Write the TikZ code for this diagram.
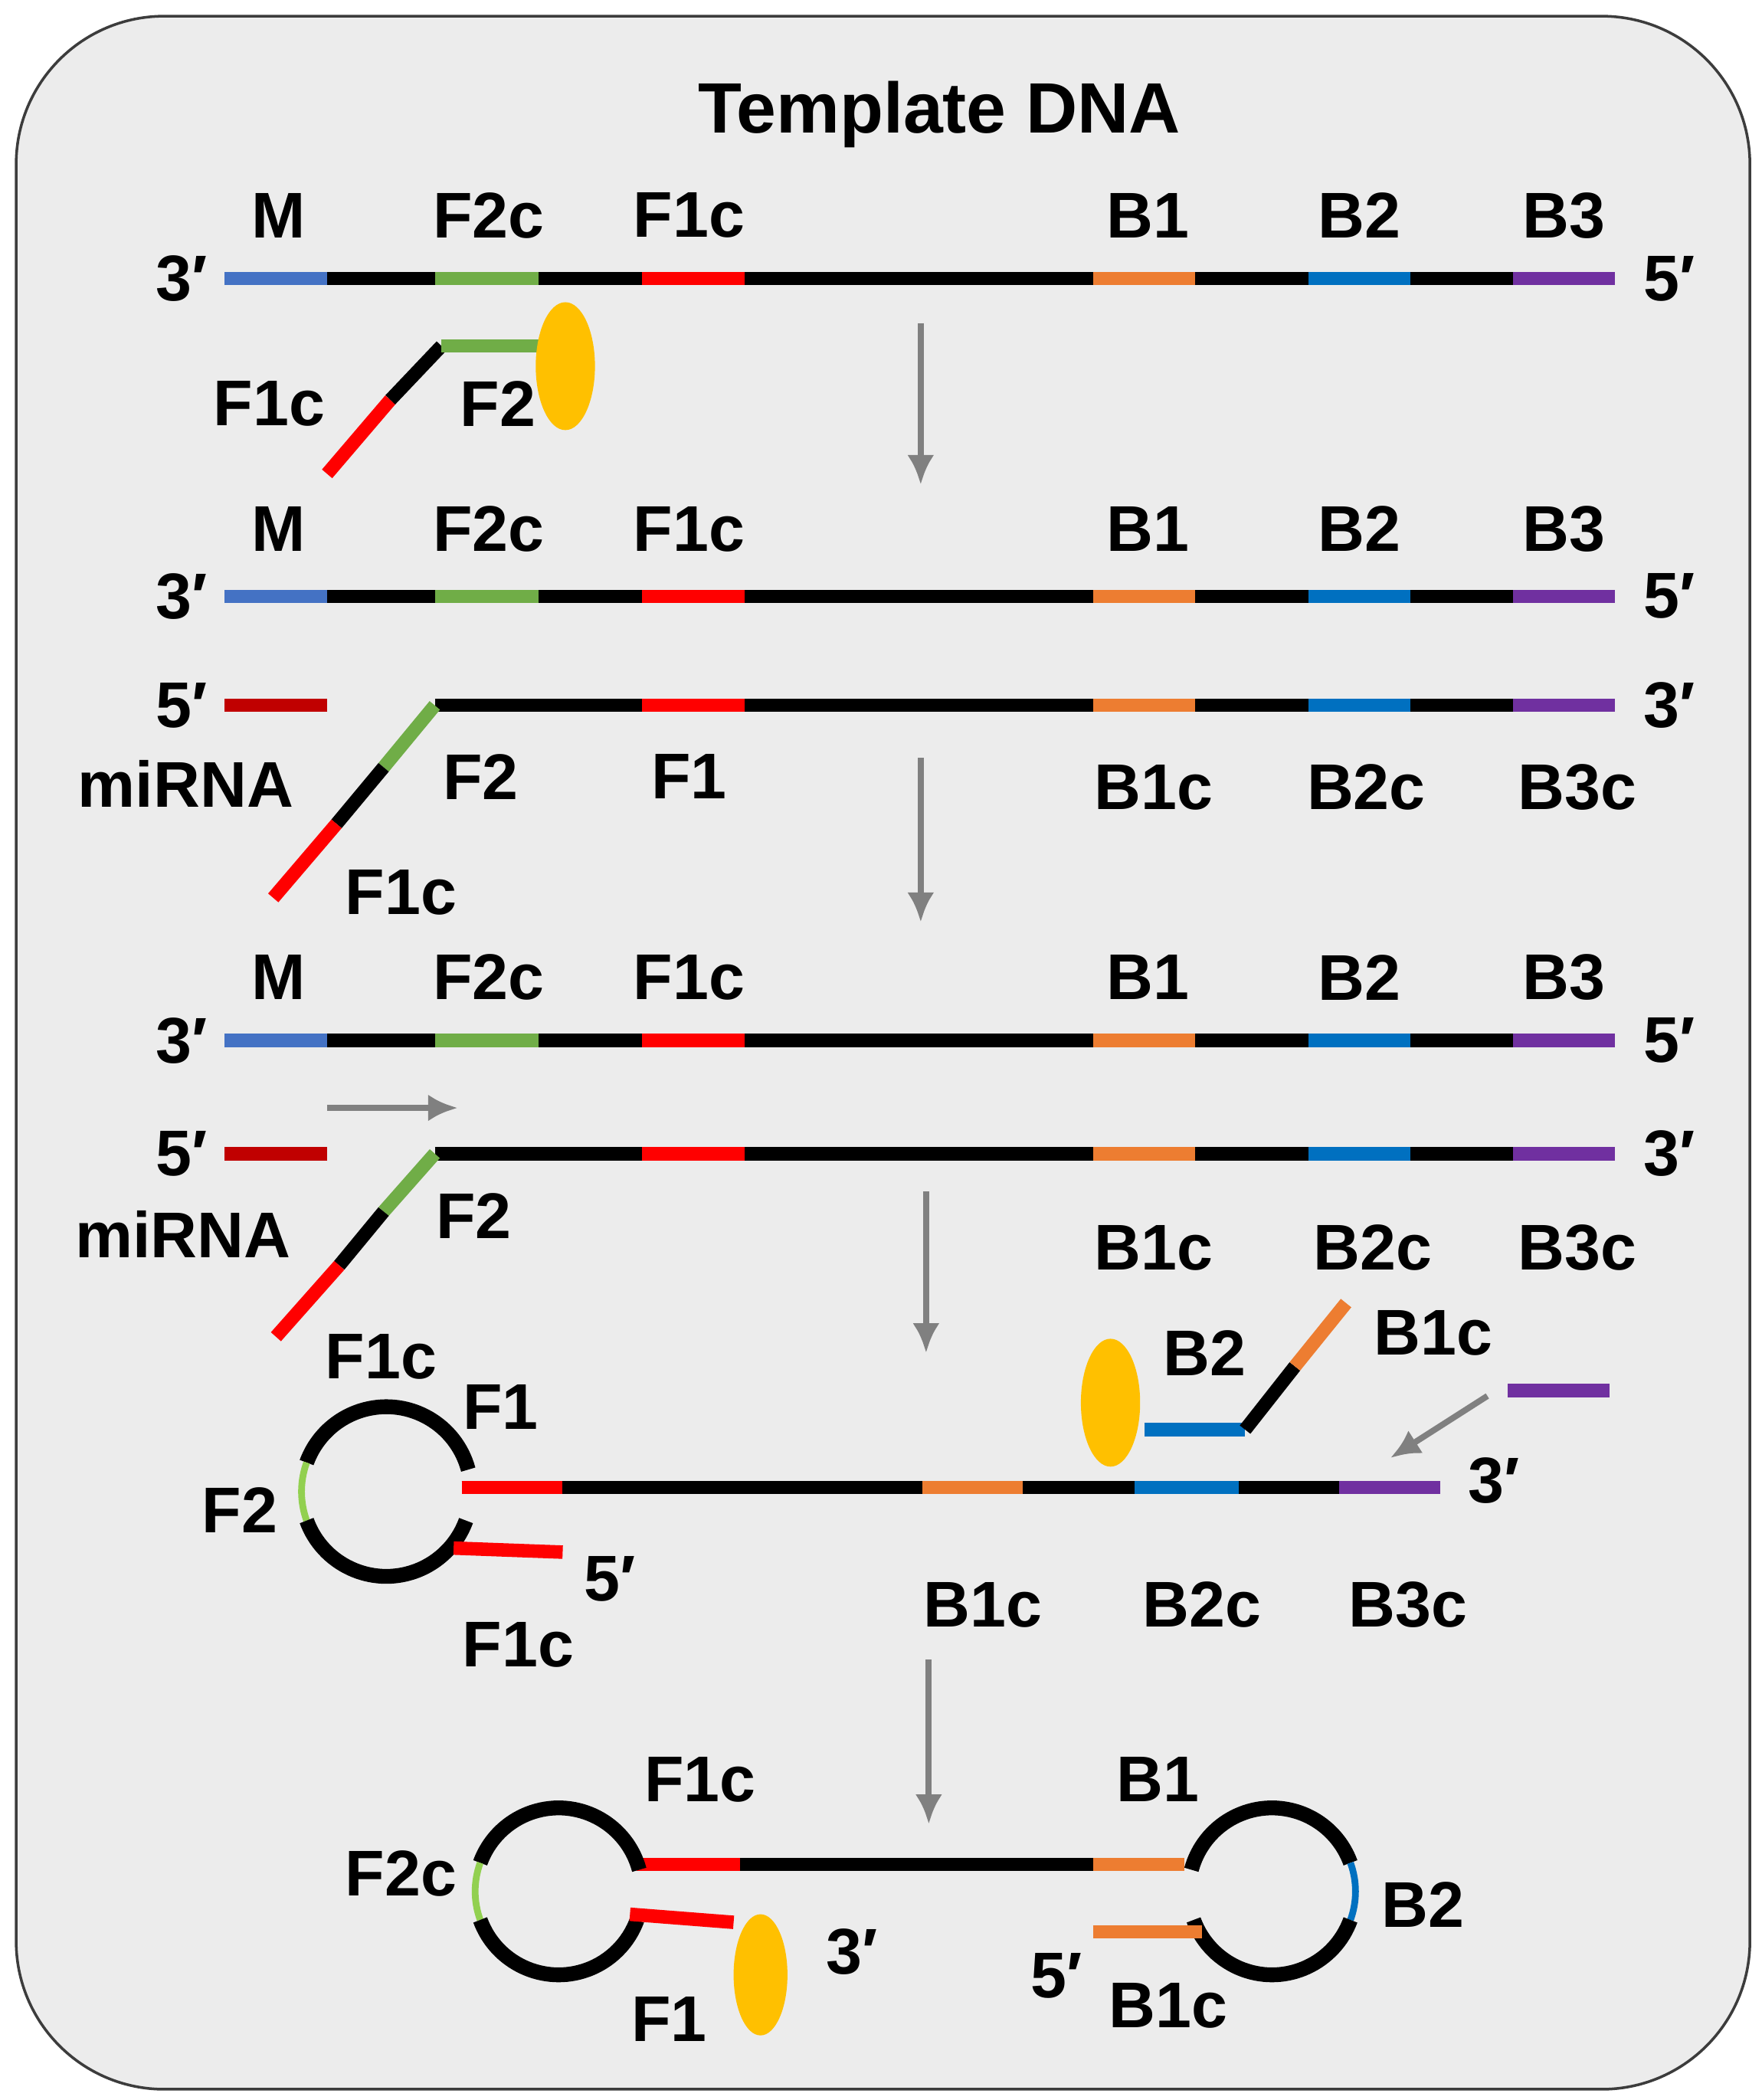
\documentclass[tikz,border=0pt]{standalone}
\usepackage{fontspec}
\setmainfont{Liberation Sans}
\definecolor{bgc}{RGB}{236,236,236}
\definecolor{frm}{RGB}{60,60,60}
\definecolor{cM}{RGB}{68,114,196}
\definecolor{cG}{RGB}{112,173,71}
\definecolor{cLG}{RGB}{146,208,80}
\definecolor{cR}{RGB}{255,0,0}
\definecolor{cDR}{RGB}{192,0,0}
\definecolor{cO}{RGB}{237,125,49}
\definecolor{cB}{RGB}{0,112,192}
\definecolor{cP}{RGB}{112,48,160}
\definecolor{cY}{RGB}{255,192,0}
\definecolor{cA}{RGB}{128,128,128}
\begin{document}
\begin{tikzpicture}[x=1pt,y=-1pt,
  lab/.style={font=\bfseries\fontsize{48}{54}\selectfont,inner sep=0pt},
  seg/.style={line width=10pt},
  arc/.style={line width=11pt},
  garr/.style={draw=cA,line width=4.5pt,-{Latex[length=22pt,width=20pt]}},
  yel/.style={ellipse,fill=cY,minimum width=44pt,minimum height=95pt,inner sep=0pt}]
\usetikzlibrary{arrows.meta,shapes.geometric}
\useasboundingbox (0,0) rectangle (1309,1560);
\draw[fill=bgc,draw=frm,line width=2pt,rounded corners=110pt] (12,12) rectangle (1300,1552);
\node[lab,font=\bfseries\fontsize{53}{60}\selectfont] (title) at (698,85) {Template DNA};
% template strands
\foreach \y/\ly [count=\i] in {207/160,443/393,773/726}{
  \draw[seg] (167,\y) -- (1200,\y);
  \draw[seg,cM] (167,\y) -- (243,\y);
  \draw[seg,cG] (323,\y) -- (400,\y);
  \draw[seg,cR] (477,\y) -- (553,\y);
  \draw[seg,cO] (812,\y) -- (888,\y);
  \draw[seg,cB] (972,\y) -- (1048,\y);
  \draw[seg,cP] (1124,\y) -- (1200,\y);
  \node[lab] (m\i) at (207,\ly) {M};
  \node[lab] (f2c\i) at (363,\ly) {F2c};
  \node[lab] (f1c\i) at (512,\ly) {F1c};
  \node[lab] (b1\i) at (853,\ly) {B1};
  \node[lab] (b2\i) at (1010,\ly) {B2};
  \node[lab] (b3\i) at (1162,\ly) {B3};
  \node[lab] (t3\i) at (135,\y) {3\char"2032};
  \node[lab] (t5\i) at (1240,\y) {5\char"2032};
}
% primer 1
\draw[seg,cR] (243,352) -- (290,297);
\draw[seg] (290,297) -- (328,257);
\draw[seg,cG] (328,257) -- (405,257);
\node[yel] (y1) at (420,272) {};
\node[lab] (p1a) at (200,300) {F1c};
\node[lab] (p1b) at (370,300) {F2};
\draw[garr] (684,240) -- (684,360);
% bottom strands
\foreach \y/\t in {524/2,857/3}{
  \draw[seg] (323,\y) -- (1200,\y);
  \draw[seg,cDR] (167,\y) -- (243,\y);
  \draw[seg,cR] (477,\y) -- (553,\y);
  \draw[seg,cO] (812,\y) -- (888,\y);
  \draw[seg,cB] (972,\y) -- (1048,\y);
  \draw[seg,cP] (1124,\y) -- (1200,\y);
  \node[lab] (s5\t) at (135,\y) {5\char"2032};
  \node[lab] (s3\t) at (1240,\y) {3\char"2032};
}
\draw[seg,cG] (323,524) -- (285,570);
\draw[seg] (285,570) -- (250,612);
\draw[seg,cR] (250,612) -- (203,667);
\node[lab] (mi2) at (138,582) {miRNA};
\node[lab] (f22) at (357,577) {F2};
\node[lab] (f12) at (512,577) {F1};
\node[lab] (b1c2) at (857,585) {B1c};
\node[lab] (b2c2) at (1015,585) {B2c};
\node[lab] (b3c2) at (1172,585) {B3c};
\node[lab] (f1cb2) at (298,663) {F1c};
\draw[garr] (684,563) -- (684,685);
% row 3
\draw[garr] (243,823) -- (340,823);
\draw[seg,cG] (323,857) -- (285,900);
\draw[seg] (285,900) -- (252,940);
\draw[seg,cR] (252,940) -- (205,993);
\node[lab] (mi3) at (136,917) {miRNA};
\node[lab] (f23) at (352,903) {F2};
\node[lab] (b1c3) at (857,927) {B1c};
\node[lab] (b2c3) at (1020,927) {B2c};
\node[lab] (b3c3) at (1172,927) {B3c};
\node[lab] (f1c3) at (283,1008) {F1c};
\draw[garr] (688,885) -- (688,1005);
% row 4
\draw[seg] (343,1105) -- (1070,1105);
\draw[seg,cR] (343,1105) -- (418,1105);
\draw[seg,cO] (685,1105) -- (760,1105);
\draw[seg,cB] (843,1105) -- (920,1105);
\draw[seg,cP] (995,1105) -- (1070,1105);
\draw[arc] (287,1108) ++(-15:63) arc (-15:-160:63);
\draw[line width=5pt,cLG] (287,1108) ++(-160:63) arc (-160:-200:63);
\draw[arc] (287,1108) ++(-200:63) arc (-200:-340:63);
\draw[seg,cR] (337,1150) -- (418,1153);
\node[lab] (f24) at (178,1122) {F2};
\node[lab] (f14) at (372,1045) {F1};
\node[lab] (p54) at (453,1173) {5\char"2032};
\node[lab] (f1c4) at (385,1222) {F1c};
\node[lab] (b1c4) at (730,1192) {B1c};
\node[lab] (b2c4) at (893,1192) {B2c};
\node[lab] (b3c4) at (1046,1192) {B3c};
\node[lab] (p34) at (1110,1100) {3\char"2032};
\draw[seg,cB] (850,1062) -- (925,1062);
\draw[seg] (925,1062) -- (962,1015);
\draw[seg,cO] (962,1015) -- (1000,968);
\node[yel] (y2) at (825,1042) {};
\node[lab] (b24) at (895,1005) {B2};
\node[lab] (b1c4b) at (1065,990) {B1c};
\draw[seg,cP] (1120,1033) -- (1196,1033);
\draw[garr] (1105,1037) -- (1033,1083);
\draw[garr] (690,1233) -- (690,1355);
% row 5
\draw[seg] (473,1385) -- (880,1385);
\draw[seg,cR] (473,1385) -- (550,1385);
\draw[seg,cO] (812,1385) -- (880,1385);
\draw[arc] (415,1405) ++(-15:62) arc (-15:-160:62);
\draw[line width=5pt,cLG] (415,1405) ++(-160:62) arc (-160:-200:62);
\draw[arc] (415,1405) ++(-200:62) arc (-200:-340:62);
\draw[seg,cR] (468,1422) -- (545,1428);
\draw[arc] (945,1405) ++(-165:62) arc (-165:-20:62);
\draw[line width=5pt,cB] (945,1405) ++(-20:62) arc (-20:20:62);
\draw[arc] (945,1405) ++(20:62) arc (20:160:62);
\draw[seg,cO] (812,1435) -- (893,1435);
\node[yel,minimum width=40pt,minimum height=90pt] (y3) at (565,1467) {};
\node[lab] (f1c5) at (520,1322) {F1c};
\node[lab] (b15) at (860,1322) {B1};
\node[lab] (f2c5) at (298,1392) {F2c};
\node[lab] (p35) at (633,1450) {3\char"2032};
\node[lab] (f15) at (497,1500) {F1};
\node[lab] (b25) at (1057,1415) {B2};
\node[lab] (p55) at (785,1468) {5\char"2032};
\node[lab] (b1c5) at (868,1490) {B1c};
\end{tikzpicture}
\end{document}
